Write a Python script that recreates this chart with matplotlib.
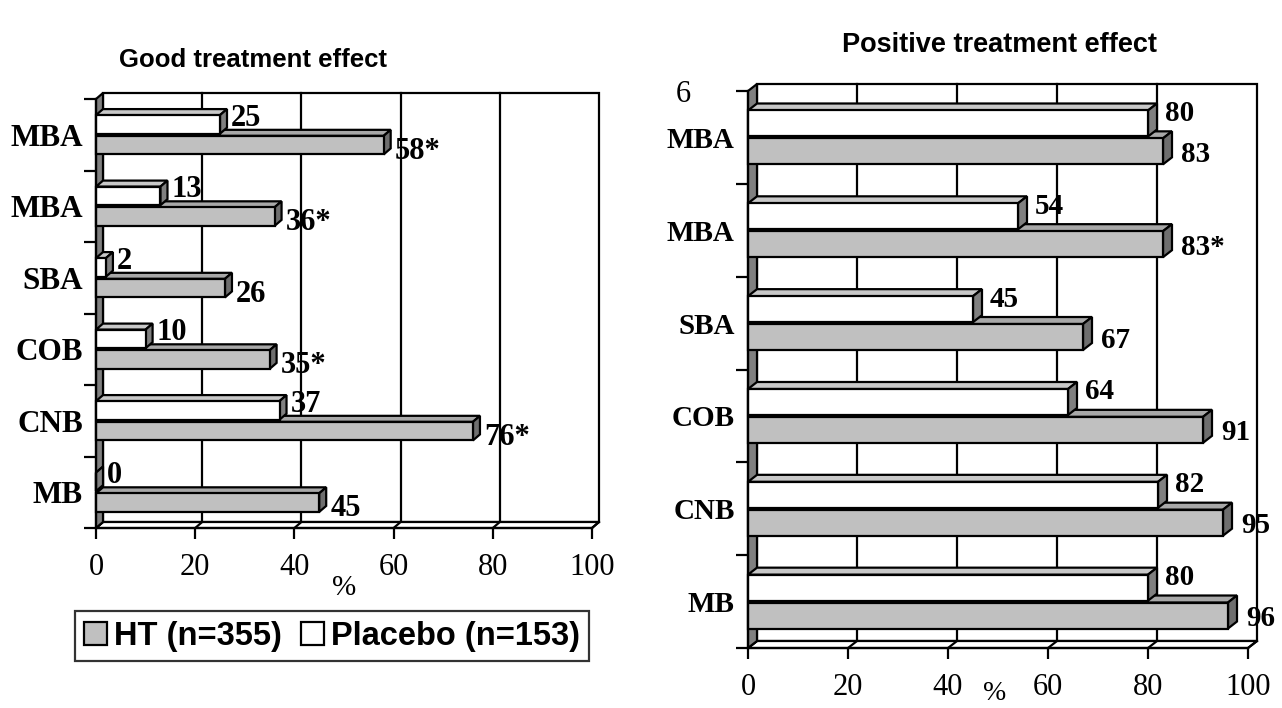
import matplotlib
matplotlib.use("Agg")
import matplotlib.pyplot as plt
from matplotlib.patches import Polygon, Patch

# ---------------- data (categories listed top to bottom) ----------------
categories = ["MBA", "MBA", "SBA", "COB", "CNB", "MB"]

good_ht = [58, 36, 26, 35, 76, 45]
good_ht_sig = ["*", "*", "", "*", "*", ""]
good_placebo = [25, 13, 2, 10, 37, 0]

pos_ht = [83, 83, 67, 91, 95, 96]
pos_ht_sig = ["", "*", "", "", "", ""]
pos_placebo = [80, 54, 45, 64, 82, 80]

xticks = [0, 20, 40, 60, 80, 100]
series_names = ["HT (n=355)", "Placebo (n=153)"]
titles = ["Good treatment effect", "Positive treatment effect"]

# ---------------- style ----------------
HT_FRONT = "#c0c0c0"
HT_TOP = "#a8a8a8"
HT_SIDE = "#6e6e6e"
PL_FRONT = "#ffffff"
PL_TOP = "#c8c8c8"
PL_SIDE = "#808080"
WALL = "#808080"
LW = 1.6
SERIF = "Liberation Serif"
SANS = "Liberation Sans"

W, H = 1282, 708
fig = plt.figure(figsize=(W / 100, H / 100), dpi=100)


def make_axes(x0, x1, ytop, ybot):
    return fig.add_axes([x0 / W, (H - ybot) / H, (x1 - x0) / W, (ybot - ytop) / H])


def draw_panel(ax, wpx, hpx, ht, ht_sig, pl, dxpx, dypx, bar_h, gap,
               pl_off, ht_off, cat_fs, val_fs, tick_fs):
    n = len(categories)
    ax.set_xlim(0, 100)
    ax.set_ylim(0, n)
    for s in ax.spines.values():
        s.set_visible(False)
    ax.patch.set_alpha(0)
    dx = dxpx * 100.0 / wpx
    dy = dypx * n / hpx

    kw = dict(clip_on=False, linewidth=LW, edgecolor="black", joinstyle="miter")
    # back wall
    ax.add_patch(Polygon([(dx, dy), (100 + dx, dy), (100 + dx, n + dy), (dx, n + dy)],
                         closed=True, facecolor="white", zorder=0.5, **kw))
    for xv in xticks[1:-1]:
        ax.plot([xv + dx, xv + dx], [dy, n + dy], color="black", lw=LW,
                zorder=0.6, clip_on=False)
    # floor
    ax.add_patch(Polygon([(0, 0), (100, 0), (100 + dx, dy), (dx, dy)],
                         closed=True, facecolor="white", zorder=0.7, **kw))
    for xv in xticks:
        ax.plot([xv, xv + dx], [0, dy], color="black", lw=LW, zorder=0.75, clip_on=False)
    # left wall
    ax.add_patch(Polygon([(0, 0), (dx, dy), (dx, n + dy), (0, n)],
                         closed=True, facecolor=WALL, zorder=0.8, **kw))

    # bars (index 0 = top category)
    ypos = [n - 0.5 - i for i in range(n)]
    ht_y = [y - gap / 2 - bar_h / 2 for y in ypos]
    pl_y = [y + gap / 2 + bar_h / 2 for y in ypos]

    def faces(yc, v, top, side, z):
        yb, yt = yc - bar_h / 2, yc + bar_h / 2
        ax.add_patch(Polygon([(0, yt), (v, yt), (v + dx, yt + dy), (dx, yt + dy)],
                             closed=True, facecolor=top, zorder=z, **kw))
        ax.add_patch(Polygon([(v, yb), (v, yt), (v + dx, yt + dy), (v + dx, yb + dy)],
                             closed=True, facecolor=side, zorder=z, **kw))

    ax.barh(ht_y, ht, height=bar_h, left=0, color=HT_FRONT, edgecolor="black",
            linewidth=LW, zorder=2.1, clip_on=False)
    for yc, v in zip(ht_y, ht):
        faces(yc, v, HT_TOP, HT_SIDE, 2.0)
    ax.barh(pl_y, pl, height=bar_h, left=0, color=PL_FRONT, edgecolor="black",
            linewidth=LW, zorder=3.1, clip_on=False)
    for yc, v in zip(pl_y, pl):
        faces(yc, v, PL_TOP, PL_SIDE, 3.0)

    # value labels
    for yc, v in zip(pl_y, pl):
        ax.annotate(f"{v}", xy=(v, yc), xytext=pl_off, textcoords="offset pixels",
                    ha="left", va="center", fontsize=val_fs, fontweight="bold",
                    family=SERIF, zorder=5, annotation_clip=False)
    for yc, v, s in zip(ht_y, ht, ht_sig):
        ax.annotate(f"{v}{s}", xy=(v, yc), xytext=ht_off, textcoords="offset pixels",
                    ha="left", va="center", fontsize=val_fs, fontweight="bold",
                    family=SERIF, zorder=5, annotation_clip=False)

    # front axis lines
    ax.plot([0, 100], [0, 0], color="black", lw=LW, zorder=4, clip_on=False)
    ax.plot([0, 0], [0, n], color="black", lw=LW, zorder=4, clip_on=False)

    # ticks
    ax.set_xticks(xticks)
    ax.set_xticklabels([str(t) for t in xticks], family=SERIF, fontsize=tick_fs)
    ax.tick_params(axis="x", length=8, width=LW, direction="out", pad=10)
    ax.set_yticks(range(n + 1))
    ax.set_yticklabels([""] * (n + 1))
    ax.tick_params(axis="y", which="major", length=9, width=LW, direction="out")
    ax.set_yticks(ypos, minor=True)
    ax.set_yticklabels(categories, minor=True, family=SERIF, fontweight="bold",
                       fontsize=cat_fs)
    ax.tick_params(axis="y", which="minor", length=0, pad=9.5)


# ---------------- left panel ----------------
axL = make_axes(96, 592, 99, 528)
draw_panel(axL, 496, 429, good_ht, good_ht_sig, good_placebo, 7, 6,
           0.26, 0.03, (11, 6), (11, -6), 22.5, 22, 22)
axL.annotate("%", xy=(50, 0), xytext=(0, -60), textcoords="offset pixels",
             ha="center", va="center", family=SERIF, fontsize=21,
             annotation_clip=False)
fig.text(253 / W, 1 - 60 / H, titles[0], ha="center", va="center",
         family=SANS, fontweight="bold", fontsize=18.5)

# ---------------- right panel ----------------
axR = make_axes(748, 1248, 91, 648)
draw_panel(axR, 500, 557, pos_ht, pos_ht_sig, pos_placebo, 9, 7,
           0.28, 0.02, (17, 10), (18, -3), 21, 21, 22)
axR.annotate("%", xy=(50, 0), xytext=(-3, -45), textcoords="offset pixels",
             ha="center", va="center", family=SERIF, fontsize=20,
             annotation_clip=False)
fig.text(1000 / W, 1 - 45 / H, titles[1], ha="center", va="center",
         family=SANS, fontweight="bold", fontsize=19.5)
fig.text(683 / W, 1 - 95 / H, "6", ha="center", va="center", family=SERIF, fontsize=22)

# ---------------- legend ----------------
handles = [Patch(facecolor=HT_FRONT, edgecolor="black", linewidth=LW),
           Patch(facecolor="white", edgecolor="black", linewidth=LW)]
leg = fig.legend(handles, series_names, loc="center",
                 bbox_to_anchor=(332 / W, 1 - 636 / H), ncol=2, frameon=True,
                 fancybox=False, edgecolor="black", handlelength=0.7,
                 handleheight=0.7, handletextpad=0.2, columnspacing=0.6,
                 borderpad=0.3, borderaxespad=0,
                 prop=dict(family=SANS, weight="bold", size=23.5))
leg.get_frame().set_linewidth(LW)

fig.savefig("out.png", dpi=100)
